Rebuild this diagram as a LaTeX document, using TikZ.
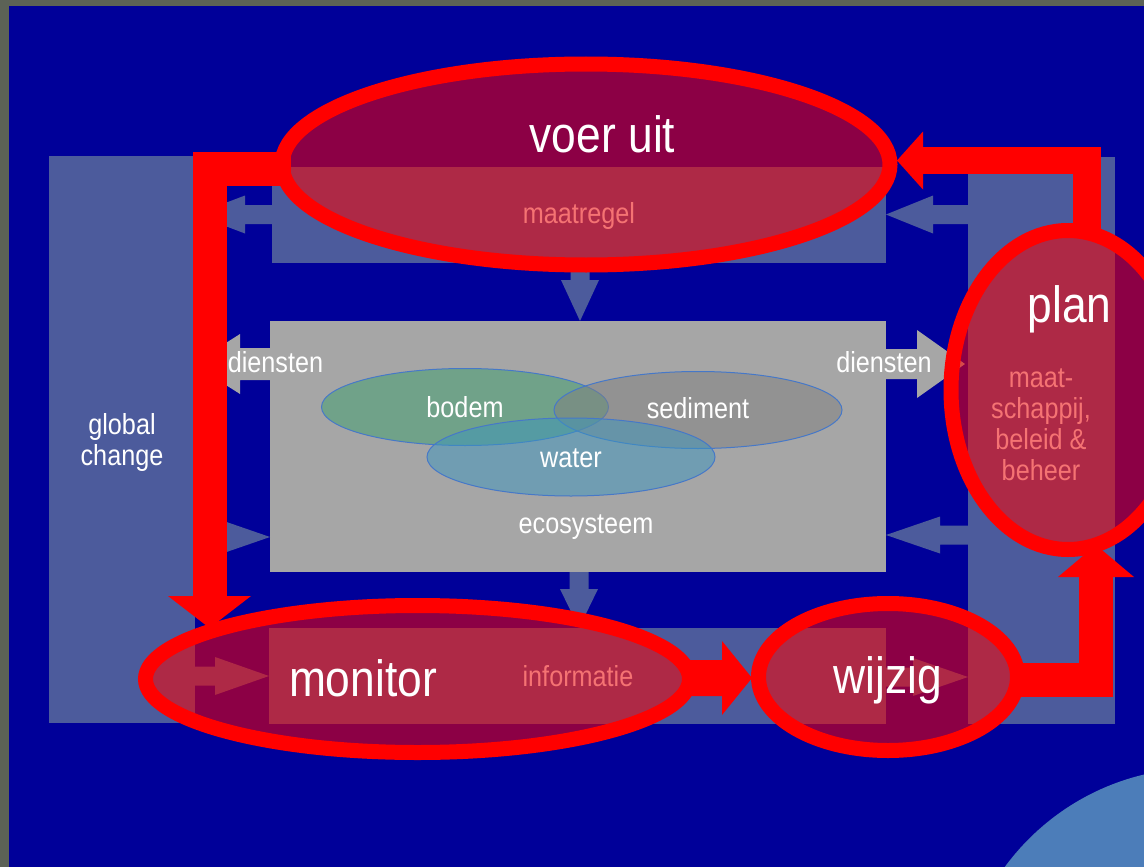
\documentclass[tikz,border=0pt]{standalone}
\usepackage{fontspec}
\setmainfont{Liberation Sans}[FakeStretch=0.87]
\usetikzlibrary{calc,shapes.geometric}
\definecolor{bgblue}{RGB}{0,0,153}
\definecolor{framecol}{RGB}{92,98,86}
\definecolor{slate}{RGB}{76,91,156}
\definecolor{ecogray}{RGB}{166,166,166}
\definecolor{salmon}{RGB}{245,115,115}
\definecolor{outl}{RGB}{70,120,200}
\definecolor{soilg}{RGB}{60,160,110}
\definecolor{watb}{RGB}{60,150,190}
\definecolor{sedg}{RGB}{128,128,128}
\definecolor{lightb}{RGB}{76,125,185}
% block arrow: #1 style, #2 from, #3 to, #4 shaft half width, #5 head half width, #6 head length
\newcommand\blockarrow[6]{%
  \pgfpointdiff{\pgfpointanchor{#2}{center}}{\pgfpointanchor{#3}{center}}%
  \pgfgetlastxy{\bax}{\bay}%
  \pgfmathsetmacro\balen{veclen(\bax,\bay)}%
  \pgfmathsetmacro\baang{atan2(\bay,\bax)}%
  \fill[#1,shift={(#2)},rotate=\baang]
    (0pt,#4pt) -- ({\balen pt-#6pt},#4pt) -- ({\balen pt-#6pt},#5pt) -- (\balen pt,0pt)
    -- ({\balen pt-#6pt},-#5pt) -- ({\balen pt-#6pt},-#4pt) -- (0pt,-#4pt) -- cycle;}
\begin{document}
\begin{tikzpicture}[x=1pt,y=-1pt,
  panel/.style={fill=slate,inner sep=0pt,outer sep=0pt,anchor=north west},
  innerell/.style={ellipse,draw=outl,line width=1pt,fill opacity=0.5,inner sep=0pt},
  redell/.style={ellipse,draw=red,line width=15pt,fill=red,fill opacity=0.55,inner sep=0pt},
  redbar/.style={draw=red,line width=#1,line join=miter},
  big/.style={text=white,font=\fontsize{51}{51}\selectfont,inner sep=0pt,anchor=base},
  small/.style={text=white,font=\fontsize{29}{31}\selectfont,inner sep=0pt,anchor=base},
  ssmall/.style={small,text=salmon}]
\clip (0,0) rectangle (1144,867);
\fill[framecol] (0,0) rectangle (1144,867);
\fill[bgblue] (9,6) rectangle (1144,867);
\fill[lightb] (1200,1010) circle (242);

% panels
\node[panel,minimum width=146pt,minimum height=567pt] (gc) at (49,156) {};
\node[panel,minimum width=614pt,minimum height=96pt] (maat) at (272,167) {};
\node[panel,minimum width=617pt,minimum height=96pt] (info) at (269,628) {};
\node[panel,minimum width=147pt,minimum height=567pt] (msb) at (968,157) {};
\node[panel,fill=ecogray,minimum width=616pt,minimum height=251pt] (eco) at (270,321) {};

% slate arrows
\coordinate (a1s) at (272,214.5); \coordinate (a1e) at (195,214.5);
\coordinate (a2s) at (968,214.5); \coordinate (a2e) at (886,214.5);
\coordinate (a3s) at (195,537);   \coordinate (a3e) at (270,537);
\coordinate (a4s) at (968,535);   \coordinate (a4e) at (886,535);
\coordinate (a5s) at (195,676);   \coordinate (a5e) at (269,676);
\coordinate (a6s) at (886,677);   \coordinate (a6e) at (968,677);
\coordinate (a7s) at (580,263);   \coordinate (a7e) at (580,321);
\coordinate (a8s) at (579,572);   \coordinate (a8e) at (579,628);
\blockarrow{slate}{a1s}{a1e}{9.5}{19}{50}
\blockarrow{slate}{a2s}{a2e}{9.5}{19}{47}
\blockarrow{slate}{a3s}{a3e}{9.5}{19}{55}
\blockarrow{slate}{a4s}{a4e}{9.5}{18.5}{54}
\blockarrow{slate}{a5s}{a5e}{9.5}{19}{54}
\blockarrow{slate}{a6s}{a6e}{9.5}{19}{55}
\blockarrow{slate}{a7s}{a7e}{9.5}{19}{41}
\blockarrow{slate}{a8s}{a8e}{9.5}{19}{39}

% diensten arrows
\coordinate (d1s) at (270,364); \coordinate (d1e) at (193,364);
\coordinate (d2s) at (886,364); \coordinate (d2e) at (965,364);
\blockarrow{ecogray}{d1s}{d1e}{16}{30}{47}
\blockarrow{ecogray}{d2s}{d2e}{15}{34}{48}

% ecosystem ellipses
\node[innerell,fill=soilg,minimum width=287pt,minimum height=77pt] (bodem) at (465,407) {};
\node[innerell,fill=sedg,minimum width=288pt,minimum height=77pt] (sediment) at (698,410) {};
\node[innerell,fill=watb,minimum width=288pt,minimum height=78pt] (water) at (571,457) {};

% red arrows
\coordinate (r1s) at (291,169); \coordinate (r1b) at (209.5,596); \coordinate (r1t) at (209.5,628);
\draw[redbar=34pt] (r1s) -| (r1b);
\blockarrow{red}{r1b}{r1t}{17}{41.5}{32}
\coordinate (r2s) at (685,678); \coordinate (r2t) at (752,678);
\blockarrow{red}{r2s}{r2t}{18}{37}{30}
\coordinate (r3s) at (1012,679.5); \coordinate (r3b) at (1096,577); \coordinate (r3t) at (1096,545);
\draw[redbar=34pt] (r3s) -| (r3b);
\blockarrow{red}{r3b}{r3t}{17}{38}{32}
\coordinate (r4s) at (1087,238); \coordinate (r4b) at (923,160.5); \coordinate (r4t) at (897,160.5);
\draw[redbar=27.5pt] (r4s) |- (r4b);
\blockarrow{red}{r4b}{r4t}{13.75}{29}{26}

% red ellipses
\node[redell,minimum width=608pt,minimum height=201pt] (voer) at (586,164.5) {};
\node[redell,minimum width=234pt,minimum height=319pt] (plan) at (1068,390) {};
\node[redell,minimum width=544pt,minimum height=147pt] (monitor) at (417.5,679) {};
\node[redell,minimum width=259pt,minimum height=147pt] (wijzig) at (888,677) {};

% texts
\node[small,anchor=center,align=center] (tgc) at (122,442.5) {global\\change};
\node[small] (tdl) at (275.5,372) {diensten};
\node[small] (tdr) at (884,372) {diensten};
\node[small] (tbodem) at (465,417) {bodem};
\node[small] (tsed) at (698,418) {sediment};
\node[small] (twater) at (571,467) {water};
\node[small] (teco) at (586,533) {ecosysteem};
\node[big] (tvoer) at (602.5,152) {voer uit};
\node[ssmall] (tmaat) at (579,223) {maatregel};
\node[big] (tplan) at (1069.5,322) {plan};
\node[ssmall,anchor=center,align=center] (tmsb) at (1041,425) {maat-\\schappij,\\beleid \&\\beheer};
\node[big] (tmon) at (363,696) {monitor};
\node[ssmall] (tinfo) at (578,686) {informatie};
\node[big] (twij) at (888,693) {wijzig};
\end{tikzpicture}
\end{document}
